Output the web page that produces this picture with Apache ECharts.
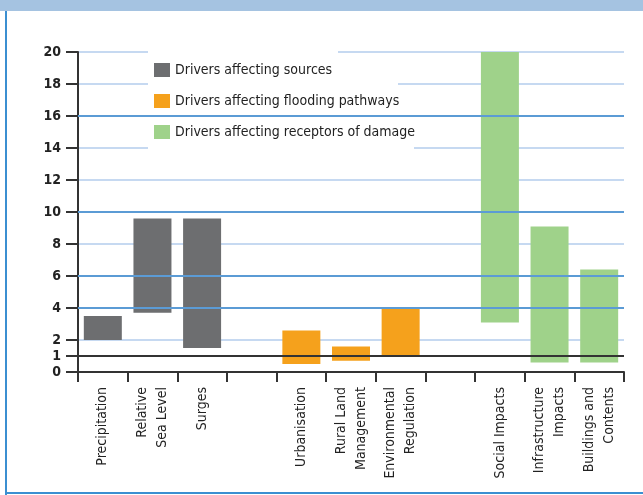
<!DOCTYPE html>
<html>
<head>
<meta charset="utf-8">
<script src="https://cdn.jsdelivr.net/npm/echarts@6/dist/echarts.min.js"></script>
<style>
  html, body { margin: 0; padding: 0; background: #fff; }
  #chart { width: 643px; height: 495px; }
</style>
</head>
<body>
<div id="chart"></div>
<script>
// categories (blank slots are the gaps between groups)
var categories = ['Precipitation', 'Relative\nSea Level', 'Surges', '',
  'Urbanisation', 'Rural Land\nManagement', 'Environmental\nRegulation', '',
  'Social Impacts', 'Infrastructure\nImpacts', 'Buildings and\nContents']
var lowValues = [2, 3.7, 1.5, '-', 0.5, 0.7, 1, '-', 3.1, 0.6, 0.6]
var highValues = [3.5, 9.6, 9.6, '-', 2.6, 1.6, 4, '-', 20, 9.1, 6.4]
var groupOf = [0, 0, 0, -1, 1, 1, 1, -1, 2, 2, 2]
var groupNames = ['Drivers affecting sources', 'Drivers affecting flooding pathways', 'Drivers affecting receptors of damage']
var yTicks = [0, 1, 2, 4, 6, 8, 10, 12, 14, 16, 18, 20]
var darkLines = [4, 6, 10, 16]
var baseLine = 1

var colors = ['#6d6e70', '#f5a11c', '#9fd28a']
var font = "'Liberation Sans Narrow', 'DejaVu Sans Condensed', sans-serif"

var chart = echarts.init(document.getElementById('chart'))

var rangeData = highValues.map(function(h, i) {
  if (h === '-') return '-'
  return {
    value: +(h - lowValues[i]).toFixed(2),
    itemStyle: { color: colors[groupOf[i]] }
  }
})

// empty series, only there for the legend entries
var legendSeries = groupNames.map(function(name, i) {
  return { name: name, type: 'bar', stack: 'range', barWidth: 38, data: [], itemStyle: { color: colors[i] } }
})

chart.setOption({
  animation: false,
  grid: { left: 78, right: 19, top: 52, bottom: 123 },
  legend: {
    orient: 'vertical',
    left: 154,
    top: 63,
    padding: 0,
    itemWidth: 16,
    itemHeight: 14,
    itemGap: 17,
    icon: 'rect',
    data: groupNames,
    textStyle: { fontFamily: font, fontSize: 14, color: '#222' }
  },
  graphic: [
    // frame
    { type: 'rect', z: 1, shape: { x: 0, y: 0, width: 643, height: 11 }, style: { fill: '#a5c3e1' } },
    { type: 'rect', z: 1, shape: { x: 5, y: 11, width: 2, height: 484 }, style: { fill: '#3b8fd1' } },
    { type: 'rect', z: 1, shape: { x: 5, y: 492, width: 638, height: 2 }, style: { fill: '#3b8fd1' } },
    // white boxes behind the legend entries
    { type: 'rect', z: 1, shape: { x: 148, y: 47, width: 190, height: 33 }, style: { fill: '#fff' } },
    { type: 'rect', z: 1, shape: { x: 148, y: 80, width: 250, height: 36 }, style: { fill: '#fff' } },
    { type: 'rect', z: 1, shape: { x: 148, y: 116, width: 266, height: 36 }, style: { fill: '#fff' } }
  ],
  xAxis: {
    type: 'category',
    data: categories,
    boundaryGap: true,
    axisLine: { show: true, lineStyle: { color: '#333', width: 2 } },
    axisTick: { show: true, interval: 0, alignWithLabel: false, length: 10, lineStyle: { color: '#333', width: 2 } },
    axisLabel: {
      interval: 0,
      rotate: 90,
      margin: 15,
      fontFamily: font,
      fontSize: 14,
      lineHeight: 20,
      color: '#222'
    },
    splitLine: { show: false }
  },
  yAxis: {
    type: 'value',
    min: 0,
    max: 20,
    interval: 2,
    axisLine: { show: true, lineStyle: { color: '#333', width: 2 } },
    axisTick: { show: true, length: 12, customValues: yTicks, lineStyle: { color: '#333', width: 2 } },
    axisLabel: {
      customValues: yTicks,
      margin: 17,
      fontFamily: font,
      fontSize: 14,
      fontWeight: 'bold',
      color: '#222'
    },
    splitLine: { show: true, lineStyle: { color: '#c6d9f1', width: 2 } }
  },
  series: [
    {
      name: 'low',
      type: 'bar',
      stack: 'range',
      barWidth: 38,
      z: 3,
      itemStyle: { color: 'transparent' },
      data: lowValues
    },
    {
      name: 'range',
      type: 'bar',
      stack: 'range',
      barWidth: 38,
      z: 3,
      data: rangeData
    },
    {
      name: 'dark grid',
      type: 'line',
      z: 2,
      data: [],
      markLine: {
        silent: true,
        symbol: 'none',
        label: { show: false },
        lineStyle: { color: '#5b9bd5', width: 2, type: 'solid' },
        data: darkLines.map(function(v) { return { yAxis: v } })
      }
    },
    {
      name: 'one',
      type: 'line',
      z: 5,
      data: [],
      markLine: {
        silent: true,
        symbol: 'none',
        label: { show: false },
        lineStyle: { color: '#333', width: 2, type: 'solid' },
        data: [{ yAxis: baseLine }]
      }
    }
  ].concat(legendSeries)
})
</script>
</body>
</html>
